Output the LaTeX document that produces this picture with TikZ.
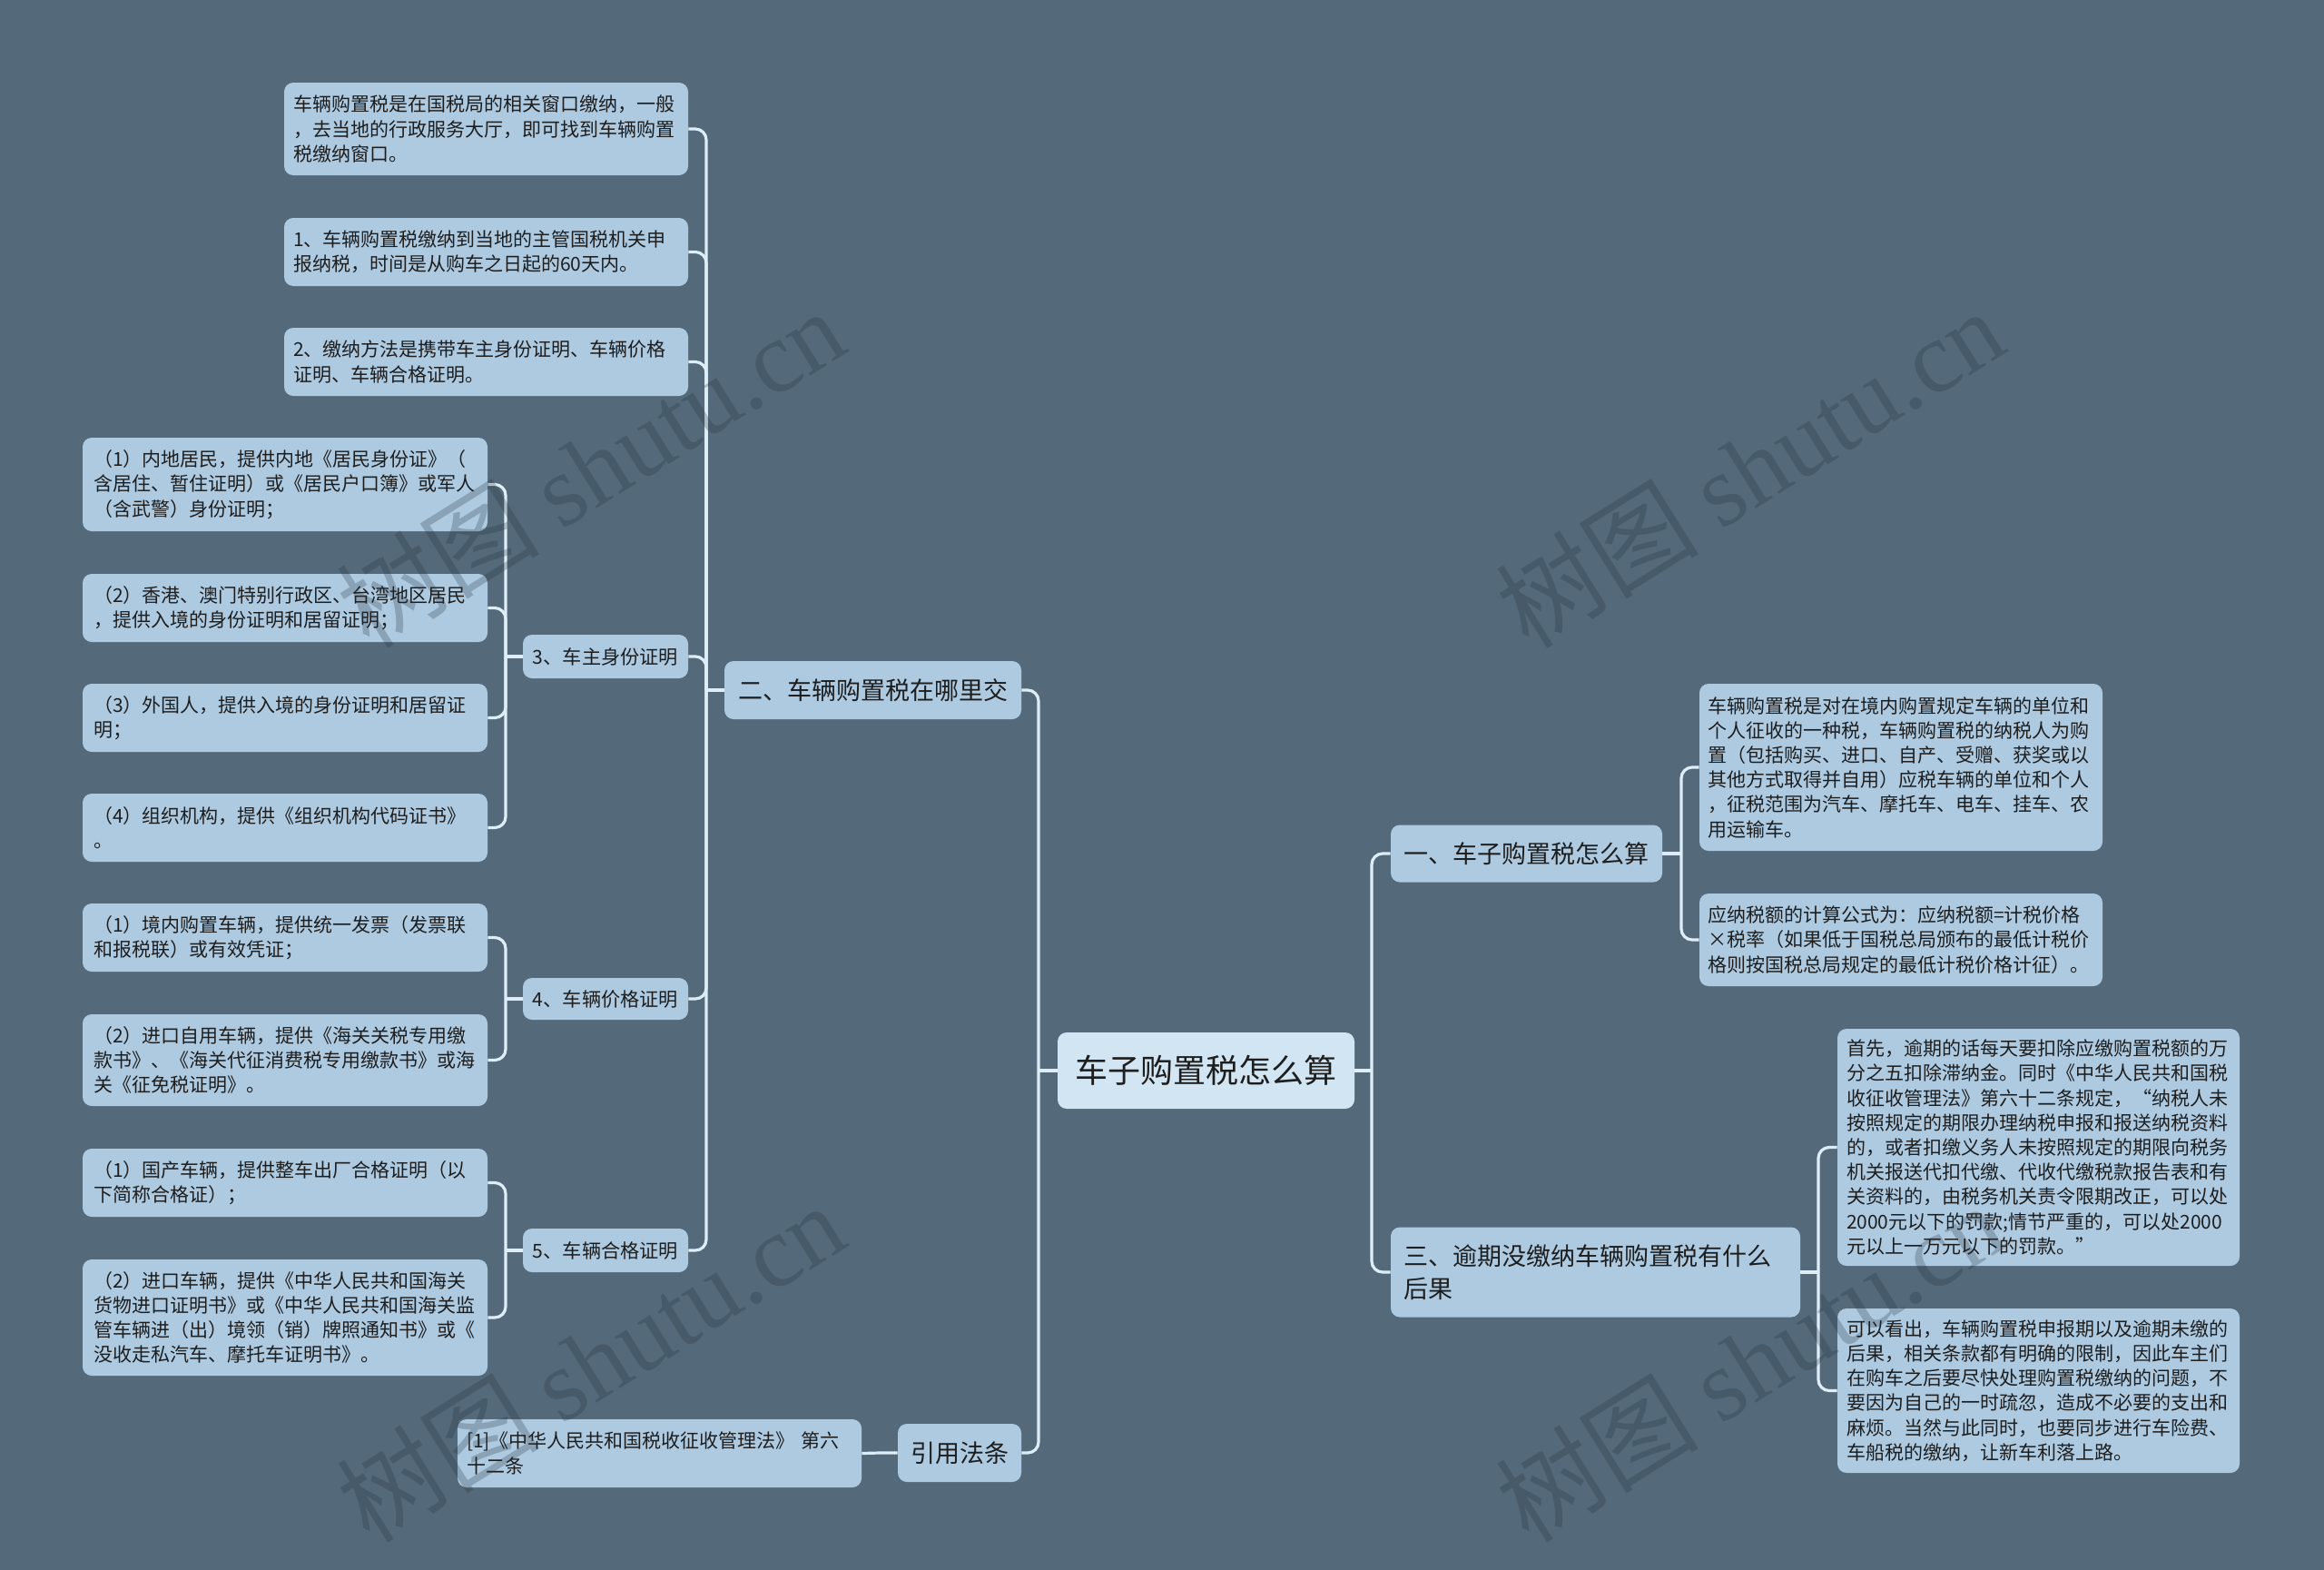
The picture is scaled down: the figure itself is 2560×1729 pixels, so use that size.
\documentclass[tikz,border=0pt]{standalone}
\usepackage{fontspec}
\setmainfont{Noto Sans CJK SC}
\newfontfamily\wmlatin{Liberation Serif}
\definecolor{bgc}{RGB}{84,106,122}
\definecolor{boxc}{RGB}{173,202,225}
\definecolor{rootc}{RGB}{209,229,242}
\definecolor{linec}{RGB}{222,238,248}
\definecolor{txtc}{RGB}{30,30,30}
\definecolor{wmc}{RGB}{35,45,55}
\tikzset{
  card/.style={fill=boxc, rounded corners=5pt, text=txtc, anchor=center},
  leaf/.style={card, align=left, inner xsep=6pt, inner ysep=0pt,
    font=\fontsize{10.5pt}{13.6pt}\selectfont},
  rleaf/.style={card, align=left, inner xsep=5pt, inner ysep=0pt,
    font=\fontsize{10.5pt}{13.6pt}\selectfont},
  mid/.style={card, align=center, inner sep=0pt,
    font=\fontsize{10.6pt}{13.6pt}\selectfont},
  branch/.style={card, align=center, inner sep=0pt,
    font=\fontsize{13.5pt}{18.3pt}\selectfont},
  rootbox/.style={card, fill=rootc, align=center, inner sep=0pt,
    font=\fontsize{18pt}{22pt}\selectfont},
  conn/.style={draw=linec, line width=1.6pt},
  elbow/.style={conn, rounded corners=6pt},
  wm/.style={text=wmc, text opacity=0.25, rotate=32, inner sep=0pt,
    font=\fontsize{56pt}{60pt}\selectfont}
}
\begin{document}
\begin{tikzpicture}[x=0.5pt,y=-0.5pt]
\fill[bgc] (0,0) rectangle (2560,1729);
\useasboundingbox (0,0) rectangle (2560,1729);

% ---------- root ----------
\node[rootbox, minimum width=163.5pt, minimum height=42pt] (root) at (1328.5,1179) {车子购置税怎么算};

% ---------- left branch 二 ----------
\node[branch, minimum width=163.5pt, minimum height=32pt] (b2) at (961.5,760) {二、车辆购置税在哪里交};

\node[leaf, inner xsep=5pt, text width=212.5pt, minimum height=51pt] (a1) at (535.5,142) {车辆购置税是在国税局的相关窗口缴纳，一般\\，去当地的行政服务大厅，即可找到车辆购置\\税缴纳窗口。};
\node[leaf, inner xsep=5pt, text width=212.5pt, minimum height=37.5pt] (a2) at (535.5,277.5) {1、车辆购置税缴纳到当地的主管国税机关申\\报纳税，时间是从购车之日起的60天内。};
\node[leaf, inner xsep=5pt, text width=212.5pt, minimum height=37.5pt] (a3) at (535.5,398.5) {2、缴纳方法是携带车主身份证明、车辆价格\\证明、车辆合格证明。};

\node[mid, minimum width=91pt, minimum height=24pt] (s3) at (667,723) {3、车主身份证明};
\node[mid, minimum width=91pt, minimum height=23pt] (s4) at (667,1100) {4、车辆价格证明};
\node[mid, minimum width=91pt, minimum height=24pt] (s5) at (667,1377) {5、车辆合格证明};

\node[leaf, text width=211pt, minimum height=51.5pt] (l1) at (314,533.5) {（1）内地居民，提供内地《居民身份证》（\\含居住、暂住证明）或《居民户口簿》或军人\\（含武警）身份证明；};
\node[leaf, text width=211pt, minimum height=37.5pt] (l2) at (314,669.5) {（2）香港、澳门特别行政区、台湾地区居民\\，提供入境的身份证明和居留证明；};
\node[leaf, text width=211pt, minimum height=37.5pt] (l3) at (314,790.5) {（3）外国人，提供入境的身份证明和居留证\\明；};
\node[leaf, text width=211pt, minimum height=37.5pt] (l4) at (314,911.5) {（4）组织机构，提供《组织机构代码证书》\\。};
\node[leaf, text width=211pt, minimum height=37.5pt] (l5) at (314,1032.5) {（1）境内购置车辆，提供统一发票（发票联\\和报税联）或有效凭证；};
\node[leaf, text width=211pt, minimum height=50.5pt] (l6) at (314,1167.5) {（2）进口自用车辆，提供《海关关税专用缴\\款书》、《海关代征消费税专用缴款书》或海\\关《征免税证明》。};
\node[leaf, text width=211pt, minimum height=37.5pt] (l7) at (314,1302.5) {（1）国产车辆，提供整车出厂合格证明（以\\下简称合格证）；};
\node[leaf, text width=211pt, minimum height=64pt] (l8) at (314,1451) {（2）进口车辆，提供《中华人民共和国海关\\货物进口证明书》或《中华人民共和国海关监\\管车辆进（出）境领（销）牌照通知书》或《\\没收走私汽车、摩托车证明书》。};

% ---------- 引用法条 ----------
\node[branch, minimum width=68pt, minimum height=32pt] (bref) at (1057,1600) {引用法条};
\node[leaf, inner xsep=5pt, text width=212.5pt, minimum height=37.5pt] (ref) at (726.5,1600.5) {[1]《中华人民共和国税收征收管理法》 第六\\十二条};

% ---------- right branches ----------
\node[branch, minimum width=149.5pt, minimum height=31.5pt] (b1) at (1681.5,940) {一、车子购置税怎么算};
\node[card, align=left, inner xsep=7pt, inner ysep=0pt, text width=211.5pt, minimum height=49.5pt,
  font=\fontsize{13.5pt}{18.3pt}\selectfont] (b3) at (1757.5,1401) {三、逾期没缴纳车辆购置税有什么\\后果};

\node[rleaf, inner xsep=4.5pt, text width=213pt, minimum height=92pt] (r1) at (2094,845) {车辆购置税是对在境内购置规定车辆的单位和\\个人征收的一种税，车辆购置税的纳税人为购\\置（包括购买、进口、自产、受赠、获奖或以\\其他方式取得并自用）应税车辆的单位和个人\\，征税范围为汽车、摩托车、电车、挂车、农\\用运输车。};
\node[rleaf, inner xsep=4.5pt, text width=213pt, minimum height=51pt] (r2) at (2094,1035) {应纳税额的计算公式为：应纳税额=计税价格\\×税率（如果低于国税总局颁布的最低计税价\\格则按国税总局规定的最低计税价格计征）。};
\node[rleaf, text width=211.5pt, minimum height=130.5pt] (r3) at (2245.5,1263.5) {首先，逾期的话每天要扣除应缴购置税额的万\\分之五扣除滞纳金。同时《中华人民共和国税\\收征收管理法》第六十二条规定，“纳税人未\\按照规定的期限办理纳税申报和报送纳税资料\\的，或者扣缴义务人未按照规定的期限向税务\\机关报送代扣代缴、代收代缴税款报告表和有\\关资料的，由税务机关责令限期改正，可以处\\2000元以下的罚款;情节严重的，可以处2000\\元以上一万元以下的罚款。”};
\node[rleaf, text width=211.5pt, minimum height=90.5pt] (r4) at (2245.5,1531.5) {可以看出，车辆购置税申报期以及逾期未缴的\\后果，相关条款都有明确的限制，因此车主们\\在购车之后要尽快处理购置税缴纳的问题，不\\要因为自己的一时疏忽，造成不必要的支出和\\麻烦。当然与此同时，也要同步进行车险费、\\车船税的缴纳，让新车利落上路。};

% ---------- junction points ----------
\coordinate (jrl) at (1144,1179);
\coordinate (jrr) at (1511,1179);
\coordinate (j2) at (778,760);
\coordinate (j3) at (557,723);
\coordinate (j4) at (557,1100);
\coordinate (j5) at (557,1377);
\coordinate (jref) at (969,1600);
\coordinate (j1) at (1852,940);
\coordinate (jthree) at (2003,1401);

% ---------- connectors ----------
\draw[conn] (root.west) -- (jrl);
\draw[elbow] (jrl) |- (b2.east);
\draw[elbow] (jrl) |- (bref.east);
\draw[conn] (root.east) -- (jrr);
\draw[elbow] (jrr) |- (b1.west);
\draw[elbow] (jrr) |- (b3.west);

\draw[conn] (b2.west) -- (j2);
\foreach \c in {a1,a2,a3,s3,s4,s5} { \draw[elbow] (j2) |- (\c.east); }
\draw[conn] (s3.west) -- (j3);
\foreach \c in {l1,l2,l3,l4} { \draw[elbow] (j3) |- (\c.east); }
\draw[conn] (s4.west) -- (j4);
\foreach \c in {l5,l6} { \draw[elbow] (j4) |- (\c.east); }
\draw[conn] (s5.west) -- (j5);
\foreach \c in {l7,l8} { \draw[elbow] (j5) |- (\c.east); }
\draw[conn] (bref.west) -- (jref) -- (ref.east);

\draw[conn] (b1.east) -- (j1);
\foreach \c in {r1,r2} { \draw[elbow] (j1) |- (\c.west); }
\draw[conn] (b3.east) -- (jthree);
\foreach \c in {r3,r4} { \draw[elbow] (jthree) |- (\c.west); }

% ---------- watermarks ----------
\node[wm] (wm1) at (650,515) {树图 {\wmlatin shutu.cn}};
\node[wm] (wm2) at (1927,515) {树图 {\wmlatin shutu.cn}};
\node[wm] (wm3) at (650,1500) {树图 {\wmlatin shutu.cn}};
\node[wm] (wm4) at (1927,1500) {树图 {\wmlatin shutu.cn}};
\end{tikzpicture}
\end{document}
